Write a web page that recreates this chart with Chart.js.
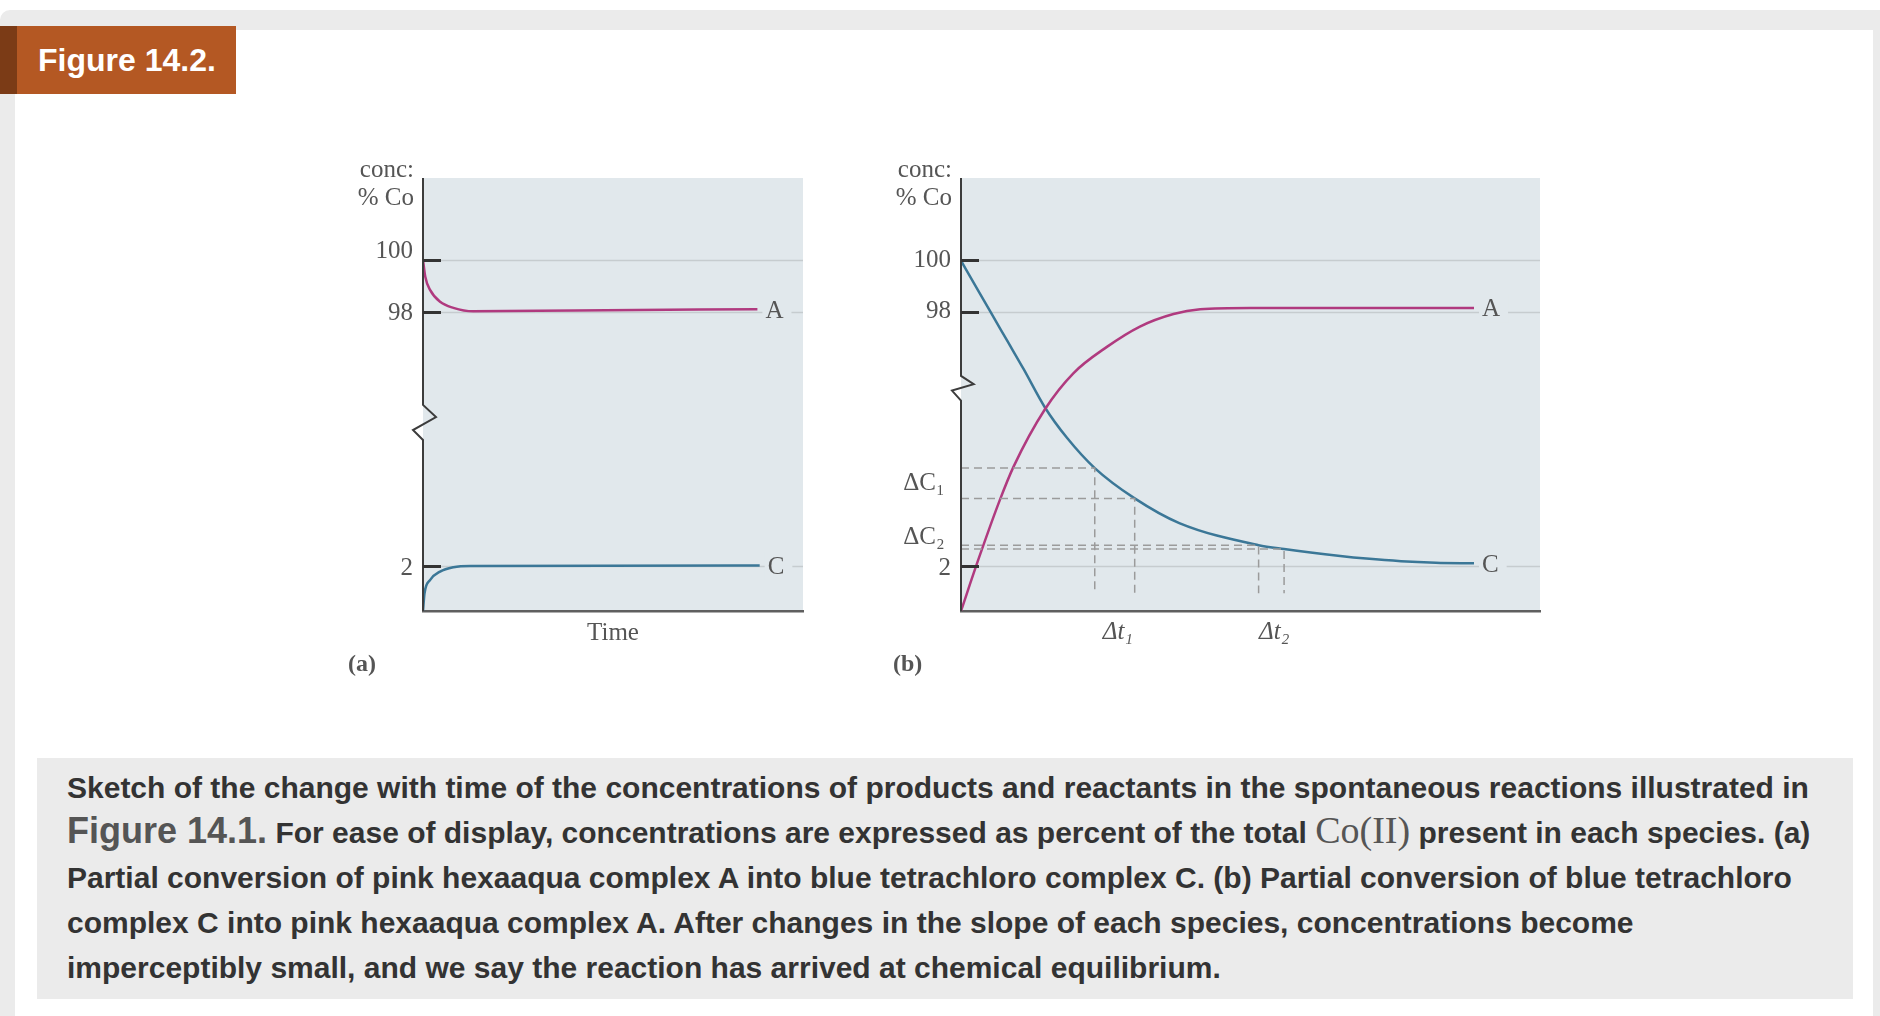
<!DOCTYPE html>
<html>
<head>
<meta charset="utf-8">
<script src="https://cdn.jsdelivr.net/npm/chart.js@4.4.1/dist/chart.umd.min.js"></script>
<style>
  html, body { margin: 0; padding: 0; background: #fff; }
  body { width: 1880px; height: 1016px; position: relative; overflow: hidden; font-family: 'Liberation Sans', Arial, sans-serif; }
  .frame { position: absolute; left: 0; top: 10px; width: 1880px; height: 1006px; background: #ebebeb; border-top-left-radius: 10px; }
  .card { position: absolute; left: 15px; top: 30px; width: 1858px; height: 986px; background: #fff; }
  .tag { position: absolute; left: 0; top: 26px; width: 198px; height: 68px; border-left: 17px solid #7b3b16; background: #b45823; color: #fff; font: bold 32px 'Liberation Sans', Arial, sans-serif; line-height: 68px; padding-left: 21px; }
  .caption { position: absolute; left: 37px; top: 758px; width: 1786px; height: 234px; padding: 7px 0 0 30px; background: #ebebeb; color: #333; font: bold 30px 'Liberation Sans', Arial, sans-serif; line-height: 45px; white-space: nowrap; }
  .caption .fig { font-size: 36px; color: #555; line-height: 1; }
  .caption .co { font: 38px 'Liberation Serif', 'Times New Roman', serif; color: #555; line-height: 1; }
  canvas { position: absolute; }
  #chartA { left: 323px; top: 140px; }
  #chartB { left: 861px; top: 140px; }
</style>
</head>
<body>
<div class="frame"></div>
<div class="card"></div>
<div class="tag">Figure 14.2.</div>

<canvas id="chartA" width="540" height="560"></canvas>
<canvas id="chartB" width="720" height="560"></canvas>

<div class="caption">
Sketch of the change with time of the concentrations of products and reactants in the spontaneous reactions illustrated in<br>
<span class="fig">Figure 14.1.</span> For ease of display, concentrations are expressed as percent of the total <span class="co">Co(II)</span> present in each species. (a)<br>
Partial conversion of pink hexaaqua complex A into blue tetrachloro complex C. (b) Partial conversion of blue tetrachloro<br>
complex C into pink hexaaqua complex A. After changes in the slope of each species, concentrations become<br>
imperceptibly small, and we say the reaction has arrived at chemical equilibrium.
</div>

<script>
// time runs 0..100 across each plot, height is 0..100 of the (broken) concentration axis

// (a) A -> C
const aTimeA = [0, 0.6, 1.9, 4.5, 8.0, 13.2, 40, 88.0]
const aConcA = [81.1, 77.2, 74.1, 71.4, 70.0, 69.2, 69.4, 69.7]
const aTimeC = [0, 0.4, 1.9, 4.5, 8.0, 12.4, 88.6]
const aConcC = [0, 4.1, 7.2, 9.1, 10.1, 10.4, 10.5]

// (b) C -> A
const bTimeA = [0, 2.9, 6.7, 9.1, 14.5, 19.4, 25.2, 30.9, 36.7, 41.3, 50, 88.6]
const bConcA = [0, 11.5, 25.6, 33.4, 46.6, 54.9, 61.0, 65.7, 68.6, 69.7, 70.0, 70.0]
const bTimeC = [0, 2.2, 5.0, 7.9, 10.8, 14.5, 18.3, 23.1, 30.0, 37.7, 51.4, 55.8, 65.5, 70, 76, 82, 88.6]
const bConcC = [80.9, 75.8, 69.3, 62.6, 55.9, 47.0, 40.0, 33.0, 26.0, 20.3, 15.2, 14.3, 12.7, 12.1, 11.5, 11.15, 11.0]

// slope read-offs in (b): dashed guides from the axis to the C curve, then down
const dashTime = [23.1, 30.0, 51.4, 55.8]
const dashConc = [33.0, 26.0, 15.2, 14.3]
const dashFloor = 4.1

// where 2, 98 and 100 sit on the broken axis
const gridLevels = [10.4, 69.1, 81.0]

const aTickPos = [9.9, 68.8, 83.0]
const aTickText = ['2', '98', '100']
const bTickPos = [9.9, 16.9, 29.4, 69.1, 80.9]
const bTickText = ['2', 'ΔC₂ ', 'ΔC₁ ', '98', '100']
const bTimeTickPos = [27.1, 54.1]
const bTimeTickText = ['Δt₁', 'Δt₂']

const pink = '#b03a7f'
const blue = '#3b7797'
const plotBg = '#e1e8ec'
const gridColor = '#c6cccf'
const textColor = '#555'
const serif = "'Liberation Serif', 'Times New Roman', serif"

const pts = (xs, ys) => xs.map((x, i) => ({ x: x, y: ys[i] }))

const curve = (xs, ys, color, label) => ({
  data: pts(xs, ys),
  borderColor: color,
  borderWidth: 2.5,
  cubicInterpolationMode: 'monotone',
  endLabel: label,
})

const sketchPlugin = {
  id: 'sketch',
  beforeDraw(chart) {
    const { ctx, chartArea: a } = chart
    ctx.save()
    ctx.fillStyle = plotBg
    ctx.fillRect(a.left, a.top, a.right - a.left, a.bottom - a.top)
    ctx.restore()
  },
  beforeDatasetsDraw(chart) {
    const { ctx, chartArea: a } = chart
    const y = chart.scales.y
    ctx.save()
    ctx.strokeStyle = gridColor
    ctx.lineWidth = 1.5
    gridLevels.forEach(v => {
      const py = Math.round(y.getPixelForValue(v)) + 0.5
      ctx.beginPath()
      ctx.moveTo(a.left, py)
      ctx.lineTo(a.right, py)
      ctx.stroke()
    })
    ctx.restore()
  },
  afterDatasetsDraw(chart, args, opts) {
    const { ctx, chartArea: a } = chart
    const y = chart.scales.y
    ctx.save()

    // curve end labels, with a patch hiding the grid line around them
    ctx.font = '25px ' + serif
    ctx.textBaseline = 'middle'
    ctx.textAlign = 'left'
    chart.data.datasets.forEach((ds, i) => {
      if (!ds.endLabel) return
      const pts = chart.getDatasetMeta(i).data
      const last = pts[pts.length - 1]
      const lx = last.x + 8
      const ly = last.y + 1
      const w = ctx.measureText(ds.endLabel).width
      ctx.fillStyle = plotBg
      ctx.fillRect(lx - 3, ly - 14, w + 11, 28)
      ctx.fillStyle = textColor
      ctx.fillText(ds.endLabel, lx, ly + 1)
    })

    // axis with the break
    ctx.strokeStyle = '#3c3c3c'
    ctx.lineWidth = 2
    ctx.beginPath()
    ctx.moveTo(a.left, a.top)
    opts.zig.forEach(z => ctx.lineTo(a.left + z[0], y.getPixelForValue(z[1])))
    ctx.lineTo(a.left, a.bottom)
    ctx.stroke()

    // tick marks
    ctx.strokeStyle = '#333'
    ctx.lineWidth = 3
    gridLevels.forEach(v => {
      const py = Math.round(y.getPixelForValue(v)) + 0.5
      ctx.beginPath()
      ctx.moveTo(a.left, py)
      ctx.lineTo(a.left + 18, py)
      ctx.stroke()
    })

    // axis caption and panel tag
    ctx.fillStyle = textColor
    ctx.textAlign = 'right'
    ctx.fillText('conc:', a.left - 9, a.top - 8)
    ctx.fillText('% Co', a.left - 9, a.top + 20)
    ctx.textAlign = 'left'
    ctx.font = 'bold 24px ' + serif
    ctx.fillText(opts.tag, a.left + opts.tagDx, a.bottom + 54)
    ctx.restore()
  },
}

function makeChart(id, cfg) {
  return new Chart(document.getElementById(id), {
    type: 'line',
    data: { datasets: cfg.datasets },
    options: {
      responsive: false,
      animation: false,
      events: [],
      layout: { padding: { left: 0, right: cfg.padRight, top: 38, bottom: 0 } },
      elements: { point: { radius: 0 }, line: { fill: false } },
      plugins: {
        legend: { display: false },
        tooltip: { enabled: false },
        sketch: cfg.sketch,
      },
      scales: {
        x: {
          type: 'linear',
          min: 0,
          max: 100,
          grid: { display: false, drawTicks: false },
          border: { display: true, color: '#5f5f5f', width: 2.5 },
          afterFit: s => { s.height = 89 },
          afterBuildTicks: s => { s.ticks = cfg.xTickPos.map(v => ({ value: v })) },
          ticks: {
            display: cfg.xTickPos.length > 0,
            autoSkip: false,
            maxRotation: 0,
            padding: 6,
            color: textColor,
            font: { family: serif, size: 25, style: 'italic' },
            callback: (v, i) => cfg.xTickText[i],
          },
          title: {
            display: !!cfg.xTitle,
            text: cfg.xTitle || '',
            color: textColor,
            font: { family: serif, size: 25 },
            padding: { top: 0, bottom: 52 },
          },
        },
        y: {
          type: 'linear',
          min: 0,
          max: 100,
          grid: { display: false, drawTicks: false },
          border: { display: false },
          afterFit: s => { s.width = 100 },
          afterBuildTicks: s => { s.ticks = cfg.yTickPos.map(v => ({ value: v })) },
          ticks: {
            autoSkip: false,
            padding: 10,
            color: textColor,
            font: { family: serif, size: 25 },
            callback: (v, i) => cfg.yTickText[i],
          },
        },
      },
    },
    plugins: [sketchPlugin],
  })
}

makeChart('chartA', {
  padRight: 60,
  datasets: [
    curve(aTimeA, aConcA, pink, 'A'),
    curve(aTimeC, aConcC, blue, 'C'),
  ],
  xTickPos: [],
  xTickText: [],
  xTitle: 'Time',
  yTickPos: aTickPos,
  yTickText: aTickText,
  sketch: { tag: '(a)', tagDx: -75, zig: [[0, 47.6], [13, 44.8], [-10, 41.8], [0, 39.5]] },
})

const dashSets = dashTime.map((t, i) => ({
  data: [{ x: 0, y: dashConc[i] }, { x: t, y: dashConc[i] }, { x: t, y: dashFloor }],
  borderColor: '#9b9b9b',
  borderWidth: 1.5,
  borderDash: [8, 5],
  tension: 0,
}))

makeChart('chartB', {
  padRight: 41,
  datasets: dashSets.concat([
    curve(bTimeA, bConcA, pink, 'A'),
    curve(bTimeC, bConcC, blue, 'C'),
  ]),
  xTickPos: bTimeTickPos,
  xTickText: bTimeTickText,
  yTickPos: bTickPos,
  yTickText: bTickText,
  sketch: { tag: '(b)', tagDx: -68, zig: [[0, 54.3], [12.7, 52.4], [-9, 50.9], [0, 48.6]] },
})
</script>
</body>
</html>
